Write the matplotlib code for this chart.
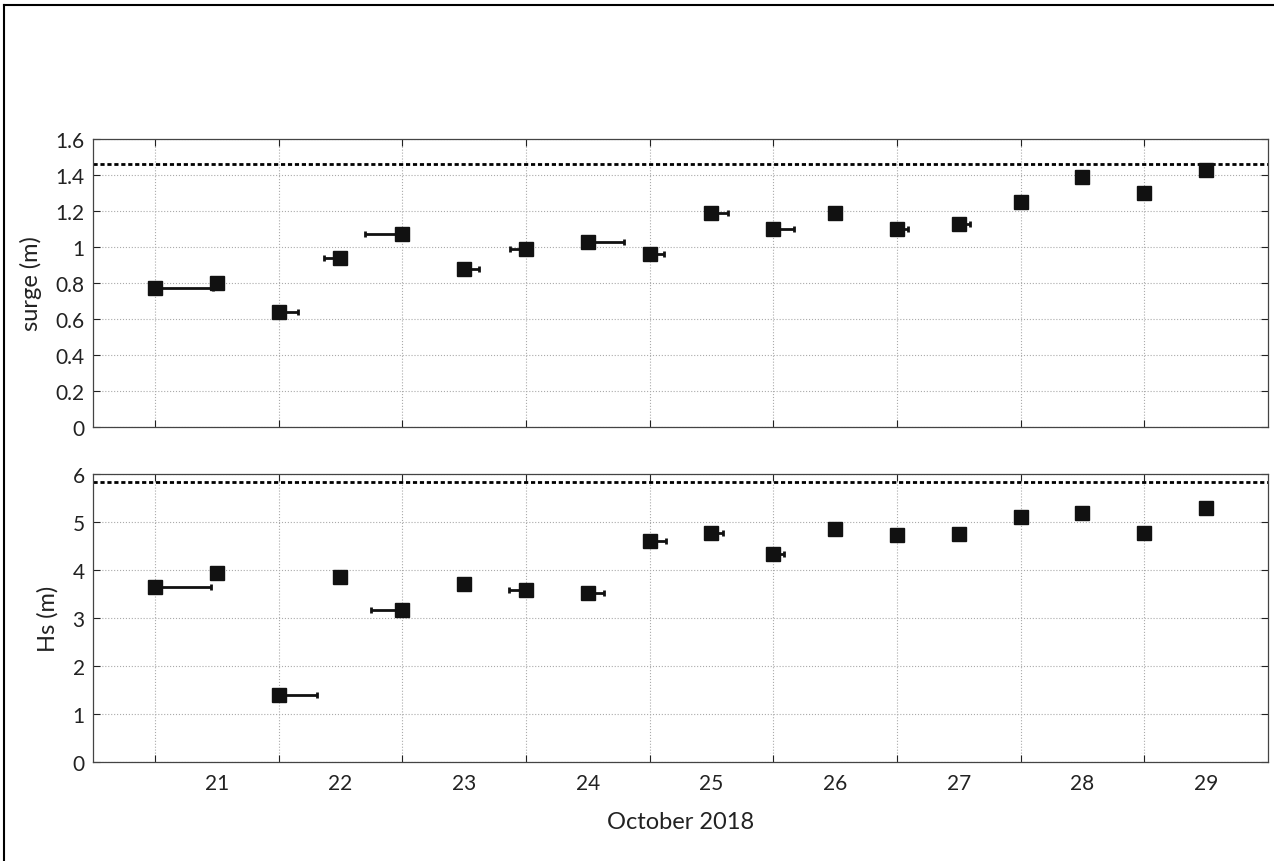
import matplotlib.pyplot as plt
from matplotlib.lines import Line2D

plt.rcParams['font.family'] = ['Lato', 'DejaVu Sans']

# times in days of October 2018 (half-day steps)
days = [20.5, 21.0, 21.5, 22.0, 22.5, 23.0, 23.5, 24.0, 24.5,
        25.0, 25.5, 26.0, 26.5, 27.0, 27.5, 28.0, 28.5, 29.0]

surge = [0.77, 0.80, 0.64, 0.94, 1.07, 0.88, 0.99, 1.03, 0.96,
         1.19, 1.10, 1.19, 1.10, 1.13, 1.25, 1.39, 1.30, 1.43]
surge_err_left = [0, 0, 0, 0.13, 0.30, 0, 0.13, 0, 0,
                  0, 0, 0, 0, 0, 0, 0, 0, 0]
surge_err_right = [0.47, 0, 0.16, 0, 0, 0.12, 0, 0.29, 0.12,
                   0.13, 0.17, 0.02, 0.09, 0.09, 0, 0, 0, 0]
surge_max = 1.46

hs = [3.65, 3.94, 1.40, 3.85, 3.17, 3.71, 3.58, 3.52, 4.60,
      4.76, 4.33, 4.86, 4.73, 4.74, 5.10, 5.19, 4.77, 5.29]
hs_err_left = [0, 0, 0, 0, 0.25, 0, 0.14, 0, 0,
               0, 0, 0, 0, 0, 0, 0, 0, 0]
hs_err_right = [0.45, 0, 0.31, 0, 0, 0, 0, 0.13, 0.13,
                0.09, 0.09, 0, 0, 0, 0, 0, 0, 0]
hs_max = 5.84

grid_ticks = [20.5, 21.5, 22.5, 23.5, 24.5, 25.5, 26.5, 27.5, 28.5]
label_ticks = [21, 22, 23, 24, 25, 26, 27, 28, 29]
label_text = [str(d) for d in label_ticks]

fig = plt.figure(figsize=(12.74, 8.62), dpi=100)
ax1 = fig.add_axes([0.073, 0.5035, 0.9223, 0.3341])
ax2 = fig.add_axes([0.073, 0.1148, 0.9223, 0.3342])

# frame round the figure (top and left edges visible)
fig.add_artist(Line2D([0.003, 1.0], [0.993, 0.993], color='black', lw=1.5))
fig.add_artist(Line2D([0.0035, 0.0035], [0.0, 0.993], color='black', lw=1.5))


def panel(ax, y, el, er, ymax, ylim, yticks, ylabel):
    ax.errorbar(days, y, xerr=[el, er], fmt='none', ecolor='#111111',
                elinewidth=2, capsize=2.5, capthick=2, zorder=3)
    ax.plot(days, y, 's', color='#111111', markersize=10.5, zorder=4)
    ax.axhline(ymax, color='black', ls=(0, (1.5, 1.0)), lw=2, zorder=2)
    ax.set_xlim(20, 29.5)
    ax.set_ylim(*ylim)
    ax.set_yticks(yticks)
    ax.set_yticklabels([('%g' % t) for t in yticks])
    ax.set_xticks(grid_ticks)
    ax.set_xticklabels([])
    ax.set_xticks(label_ticks, minor=True)
    ax.tick_params(which='major', direction='in', top=True, right=True,
                   length=5, width=0.8, labelsize=15, colors='#222222', pad=6)
    ax.tick_params(which='minor', length=0)
    ax.grid(True, which='major', ls=':', color='#aaaaaa', lw=0.8)
    ax.set_axisbelow(True)
    for s in ax.spines.values():
        s.set_color('#444444')
        s.set_linewidth(0.9)
    ax.set_ylabel(ylabel, fontsize=17, color='#222222', labelpad=10)


panel(ax1, surge, surge_err_left, surge_err_right, surge_max, (0, 1.6),
      [0, 0.2, 0.4, 0.6, 0.8, 1, 1.2, 1.4, 1.6], 'surge (m)')
panel(ax2, hs, hs_err_left, hs_err_right, hs_max, (0, 6),
      [0, 1, 2, 3, 4, 5, 6], 'Hs (m)')

ax1.set_xticklabels([], minor=True)
ax2.set_xticklabels(label_text, minor=True)
ax2.tick_params(which='minor', labelsize=15, labelcolor='#222222', pad=8)
ax2.set_xlabel('October 2018', fontsize=17, color='#222222', labelpad=13)

fig.savefig('out.png', dpi=100)
